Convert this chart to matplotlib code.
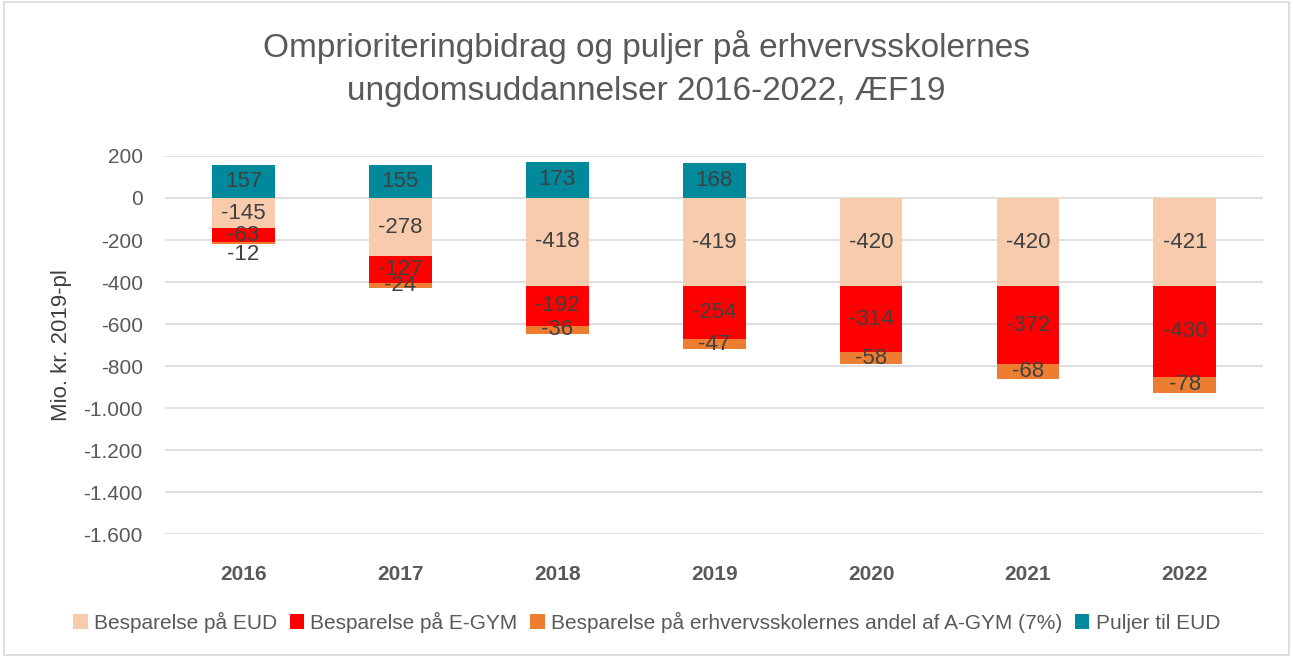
import numpy as np
import matplotlib.pyplot as plt
from matplotlib.ticker import FuncFormatter
from matplotlib.patches import Rectangle

years = ["2016", "2017", "2018", "2019", "2020", "2021", "2022"]
eud = [-145, -278, -418, -419, -420, -420, -421]
egym = [-63, -127, -192, -254, -314, -372, -430]
agym = [-12, -24, -36, -47, -58, -68, -78]
puljer = [157, 155, 173, 168, 0, 0, 0]

labels = ["Besparelse på EUD", "Besparelse på E-GYM",
          "Besparelse på erhvervsskolernes andel af A-GYM (7%)", "Puljer til EUD"]
colors = ["#F8CBAD", "#FF0000", "#ED7D31", "#00899B"]

plt.rcParams['font.family'] = ['Liberation Sans', 'DejaVu Sans']

fig = plt.figure(figsize=(12.93, 6.57), dpi=100)
ax = fig.add_axes([0.1276, 0.187, 0.8494, 0.5756])

x = np.arange(len(years))
w = 0.4
label_color = "#404040"


def thousands(v, pos):
    s = f"{abs(int(v)):,}".replace(",", ".")
    return ("-" if v < 0 else "") + s


bottom = np.zeros(len(years))
for vals, lab, col in zip([eud, egym, agym], labels[:3], colors[:3]):
    vals = np.array(vals, dtype=float)
    ax.bar(x, vals, w, bottom=bottom, color=col, label=lab, zorder=2)
    for xi, b, v in zip(x, bottom, vals):
        if abs(v) < 20:
            # too thin: put the label just under the bar
            ax.text(xi, b + v, f"{int(v)}", ha="center", va="top",
                    fontsize=16, color=label_color, zorder=3)
        else:
            ax.text(xi, b + v / 2, f"{int(v)}", ha="center", va="center",
                    fontsize=16, color=label_color, zorder=3)
    bottom = bottom + vals

pv = np.array(puljer, dtype=float)
ax.bar(x, pv, w, color=colors[3], label=labels[3], zorder=2)
for xi, v in zip(x, pv):
    if v > 0:
        ax.text(xi, v / 2, f"{int(v)}", ha="center", va="center",
                fontsize=16, color=label_color, zorder=3)

ax.set_ylim(-1600, 200)
ax.set_xlim(-0.5, len(years) - 0.5)
ax.set_yticks(np.arange(-1600, 201, 200))
ax.yaxis.set_major_formatter(FuncFormatter(thousands))
ax.set_xticks(x)
ax.set_xticklabels(years, fontweight="bold")
ax.tick_params(axis="x", length=0, labelsize=15, colors="#595959", pad=22)
ax.tick_params(axis="y", length=0, labelsize=15, colors="#595959", pad=16)
ax.grid(axis="y", color="#D9D9D9", linewidth=1.2, zorder=0)
for s in ax.spines.values():
    s.set_visible(False)
ax.set_ylabel("Mio. kr. 2019-pl", fontsize=16, color="#404040", labelpad=8)

fig.suptitle("Omprioriteringbidrag og puljer på erhvervsskolernes\nungdomsuddannelser 2016-2022, ÆF19",
             y=0.955, fontsize=24, color="#595959", linespacing=1.5)

fig.legend(loc="center", bbox_to_anchor=(0.5, 0.053), ncol=4, frameon=False,
           fontsize=15, labelcolor="#595959", handlelength=0.7, handleheight=0.7,
           handletextpad=0.3, columnspacing=0.6)

fig.patches.append(Rectangle((0.003, 0.003), 0.994, 0.994, transform=fig.transFigure,
                             fill=False, edgecolor="#D9D9D9", linewidth=1.2))

fig.savefig("out.png", dpi=100)
